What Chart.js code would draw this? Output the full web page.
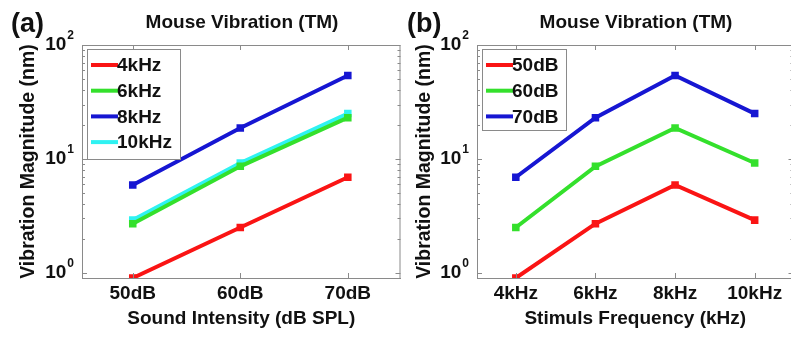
<!DOCTYPE html>
<html>
<head>
<meta charset="utf-8">
<script src="https://cdn.jsdelivr.net/npm/chart.js@4"></script>
<style>
  body { margin: 0; background: #fff; overflow: hidden; }
  #wrap { position: relative; width: 791px; height: 339px; overflow: hidden; }
  .panel { position: absolute; top: 0; height: 339px; }
</style>
</head>
<body>
<div id="wrap">
  <div class="panel" style="left:400px;width:400px"><canvas id="chartB"></canvas></div>
  <div class="panel" style="left:0;width:407px"><canvas id="chartA"></canvas></div>
</div>
<script>
// Panel (a): vibration vs sound intensity
const intensities = [50, 60, 70];
const intensityLabels = ['50dB', '60dB', '70dB'];
const freqSeriesNames = ['4kHz', '6kHz', '8kHz', '10kHz'];
const vib4k = [0.9, 2.5, 6.9];
const vib6k = [2.7, 8.6, 23];
const vib8k = [5.9, 18.7, 54];
const vib10k = [2.9, 9.2, 25];

// Panel (b): vibration vs stimulus frequency
const freqs = [4, 6, 8, 10];
const freqLabels = ['4kHz', '6kHz', '8kHz', '10kHz'];
const levelSeriesNames = ['50dB', '60dB', '70dB'];
const vib50 = [0.9, 2.7, 5.9, 2.9];
const vib60 = [2.5, 8.6, 18.7, 9.2];
const vib70 = [6.9, 23, 54, 25];

// y tick labels: base and exponent
const yTickValues = [1, 10, 100];
const yTickExps = ['0', '1', '2'];

const colors = {
    red: '#fa1414',
    green: '#34e02c',
    blue: '#1616d2',
    cyan: '#2ff2f2',
    axis: '#8a8a8a'
};
const FONT = "'Liberation Sans', Arial, sans-serif";

function series(xs, ys) {
    return xs.map((x, i) => ({ x: x, y: ys[i] }));
}

function ds(label, xs, ys, color) {
    return {
        label: label,
        data: series(xs, ys),
        borderColor: color,
        backgroundColor: color,
        borderWidth: 4,
        pointStyle: 'rect',
        pointRadius: 2.5,
        pointHoverRadius: 2.5,
        tension: 0
    };
}

// inward MATLAB-style ticks, box, y labels with exponents, legend
const boxPlugin = {
    id: 'boxPlugin',
    afterDatasetsDraw(chart, args, opts) {
        const { ctx, chartArea: a, scales } = chart;
        ctx.save();
        ctx.strokeStyle = colors.axis;
        ctx.lineWidth = 1;
        ctx.strokeRect(a.left + 0.5, a.top + 0.5, a.right - a.left - 1, a.bottom - a.top);
        ctx.beginPath();
        opts.xTicks.forEach(v => {
            const px = Math.round(scales.x.getPixelForValue(v)) + 0.5;
            ctx.moveTo(px, a.bottom); ctx.lineTo(px, a.bottom - 5);
            ctx.moveTo(px, a.top); ctx.lineTo(px, a.top + 5);
        });
        for (let d = 0; d <= 2; d++) {
            for (let m = 1; m <= 9; m++) {
                const v = m * Math.pow(10, d);
                if (v > 100 || v < scales.y.min) continue;
                const py = Math.round(scales.y.getPixelForValue(v)) + 0.5;
                const len = m === 1 ? 5 : 3;
                ctx.moveTo(a.left, py); ctx.lineTo(a.left + len, py);
                ctx.moveTo(a.right, py); ctx.lineTo(a.right - len, py);
            }
        }
        ctx.stroke();

        // y tick labels 10^n
        ctx.fillStyle = '#111';
        ctx.textBaseline = 'middle';
        yTickValues.forEach((v, i) => {
            const py = scales.y.getPixelForValue(v);
            ctx.font = 'bold 12px ' + FONT;
            const ew = ctx.measureText(yTickExps[i]).width;
            ctx.textAlign = 'right';
            ctx.fillText(yTickExps[i], a.left - 8, py - 9);
            ctx.font = 'bold 19px ' + FONT;
            ctx.fillText('10', a.left - 9 - ew, py);
        });

        // legend box
        const lg = opts.legend;
        ctx.textAlign = 'left';
        ctx.strokeStyle = colors.axis;
        ctx.lineWidth = 1;
        ctx.fillStyle = '#fff';
        ctx.fillRect(lg.x, lg.y, lg.w, lg.h);
        ctx.strokeRect(lg.x + 0.5, lg.y + 0.5, lg.w, lg.h);
        ctx.font = 'bold 19px ' + FONT;
        chart.data.datasets.forEach((d, i) => {
            const y = lg.y + 16 + i * lg.step;
            ctx.strokeStyle = d.borderColor;
            ctx.lineWidth = 4;
            ctx.beginPath();
            ctx.moveTo(lg.x + 4, y); ctx.lineTo(lg.x + 31, y);
            ctx.stroke();
            ctx.fillStyle = '#111';
            ctx.fillText(d.label, lg.x + 30, y + 1);
        });

        // panel letter and title
        ctx.fillStyle = '#111';
        ctx.textAlign = 'left';
        ctx.font = 'bold 27px ' + FONT;
        ctx.fillText(opts.letter, opts.letterX, 25);
        ctx.textAlign = 'center';
        ctx.font = 'bold 19px ' + FONT;
        ctx.fillText('Mouse Vibration (TM)', opts.titleX, 23);
        ctx.restore();
    }
};

function makeChart(id, datasets, xMin, xMax, xTicks, xLabels, xTitle, yAxisWidth, yTitlePad, extra) {
    return new Chart(document.getElementById(id), {
        type: 'line',
        data: { datasets: datasets },
        options: {
            responsive: true,
            maintainAspectRatio: false,
            animation: false,
            layout: { padding: { top: 45, right: -4, bottom: 0, left: 0 } },
            plugins: {
                legend: { display: false },
                tooltip: { enabled: false },
                boxPlugin: Object.assign({ xTicks: xTicks }, extra)
            },
            scales: {
                x: {
                    type: 'linear',
                    min: xMin,
                    max: xMax,
                    afterBuildTicks: s => { s.ticks = xTicks.map(v => ({ value: v })); },
                    afterFit: s => { s.height = 61; s.paddingLeft = 0; s.paddingRight = 0; },
                    grid: { display: false, drawTicks: false },
                    border: { color: colors.axis },
                    ticks: {
                        padding: 4,
                        color: '#111',
                        font: { family: FONT, size: 19, weight: 'bold' },
                        callback: v => xLabels[xTicks.indexOf(v)]
                    },
                    title: {
                        display: true,
                        text: xTitle,
                        color: '#111',
                        font: { family: FONT, size: 19, weight: 'bold' },
                        padding: { top: 0, bottom: 9 }
                    }
                },
                y: {
                    type: 'logarithmic',
                    min: 0.9,
                    max: 100,
                    afterBuildTicks: s => { s.ticks = yTickValues.map(v => ({ value: v })); },
                    afterFit: s => { s.width = yAxisWidth; s.paddingTop = 0; s.paddingBottom = 0; },
                    grid: { display: false },
                    border: { color: colors.axis },
                    ticks: { display: false },
                    title: {
                        display: true,
                        text: 'Vibration Magnitude (nm)',
                        color: '#111',
                        font: { family: FONT, size: 19.5, weight: 'bold' },
                        padding: { top: yTitlePad, bottom: 0 }
                    }
                }
            }
        },
        plugins: [boxPlugin]
    });
}

makeChart('chartA', [
    ds(freqSeriesNames[0], intensities, vib4k, colors.red),
    ds(freqSeriesNames[1], intensities, vib6k, colors.green),
    ds(freqSeriesNames[2], intensities, vib8k, colors.blue),
    ds(freqSeriesNames[3], intensities, vib10k, colors.cyan)
], 45.28, 74.9, intensities, intensityLabels, 'Sound Intensity (dB SPL)', 82, 17,
   { letter: '(a)', letterX: 11, titleX: 242, legend: { x: 87, y: 49, w: 93, h: 110, step: 25.7 } });

makeChart('chartB', [
    ds(levelSeriesNames[0], freqs, vib50, colors.red),
    ds(levelSeriesNames[1], freqs, vib60, colors.green),
    ds(levelSeriesNames[2], freqs, vib70, colors.blue)
], 3.025, 10.975, freqs, freqLabels, 'Stimuls Frequency (kHz)', 77, 13,
   { letter: '(b)', letterX: 7, titleX: 236, legend: { x: 82, y: 49, w: 84, h: 81, step: 25.7 } });
</script>
</body>
</html>
